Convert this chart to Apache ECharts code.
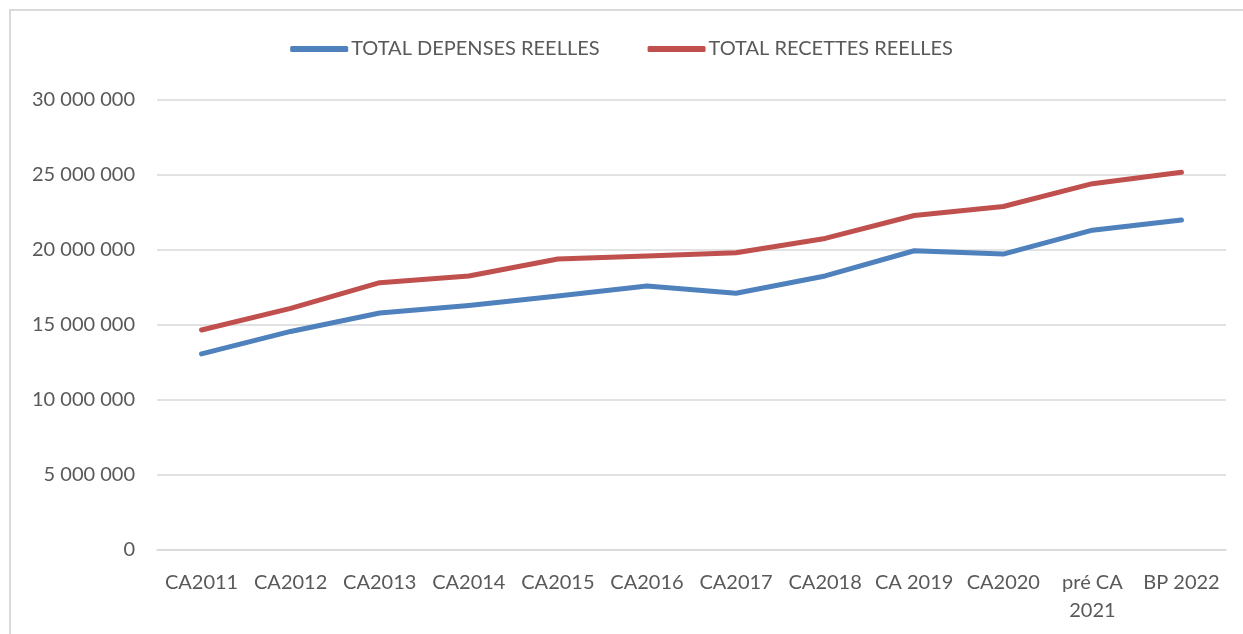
<!DOCTYPE html>
<html>
<head>
<meta charset="utf-8">
<script src="https://cdn.jsdelivr.net/npm/echarts@6/dist/echarts.min.js"></script>
<style>
  html, body { margin: 0; padding: 0; background: #fff; }
  #frame { position: absolute; left: 9px; top: 9px; right: 0; bottom: 0;
           border-left: 2px solid #d9d9d9; border-top: 2px solid #d9d9d9; }
  #chart { position: absolute; left: 0; top: 0; width: 1243px; height: 634px; }
</style>
</head>
<body>
<div id="frame"></div>
<div id="chart"></div>
<script>
// données
var categories = ['CA2011', 'CA2012', 'CA2013', 'CA2014', 'CA2015', 'CA2016',
  'CA2017', 'CA2018', 'CA 2019', 'CA2020', 'pré CA\n2021', 'BP 2022'];
var depenses = [13070000, 14570000, 15800000, 16300000, 16930000, 17600000,
  17120000, 18270000, 19950000, 19730000, 21320000, 22000000];
var recettes = [14670000, 16110000, 17820000, 18270000, 19400000, 19600000,
  19820000, 20770000, 22300000, 22900000, 24420000, 25180000];
var seriesNames = ['TOTAL DEPENSES REELLES', 'TOTAL RECETTES REELLES'];

var chart = echarts.init(document.getElementById('chart'));
var txt = '#595959';
var font = 'Lato, "Open Sans", sans-serif';

chart.setOption({
  animation: false,
  textStyle: { fontFamily: font },
  legend: {
    top: 34,
    left: 'center',
    itemWidth: 58,
    itemHeight: 6,
    itemGap: 48,
    icon: 'roundRect',
    textStyle: { fontSize: 20, color: txt, fontFamily: font, padding: [0, 0, 0, -2] },
    data: seriesNames
  },
  grid: {
    left: 157,
    right: 17,
    top: 100,
    bottom: 84
  },
  xAxis: {
    type: 'category',
    boundaryGap: true,
    data: categories,
    axisLine: { lineStyle: { color: '#d9d9d9', width: 1.5 } },
    axisTick: { show: false },
    axisLabel: { color: txt, fontSize: 20, margin: 19, lineHeight: 28, interval: 0, fontFamily: font }
  },
  yAxis: {
    type: 'value',
    min: 0,
    max: 30000000,
    interval: 5000000,
    axisLine: { show: false },
    axisTick: { show: false },
    splitLine: { lineStyle: { color: '#d9d9d9', width: 1.5 } },
    axisLabel: {
      color: txt, fontSize: 20, margin: 22, fontFamily: font,
      formatter: function (v) {
        return String(v).replace(/\B(?=(\d{3})+(?!\d))/g, ' ');
      }
    }
  },
  series: [{
    name: seriesNames[0],
    type: 'line',
    data: depenses,
    symbol: 'none',
    color: '#4f81bd',
    lineStyle: { width: 5, cap: 'round', join: 'round' }
  }, {
    name: seriesNames[1],
    type: 'line',
    data: recettes,
    symbol: 'none',
    color: '#c0504d',
    lineStyle: { width: 5, cap: 'round', join: 'round' }
  }]
});
</script>
</body>
</html>
